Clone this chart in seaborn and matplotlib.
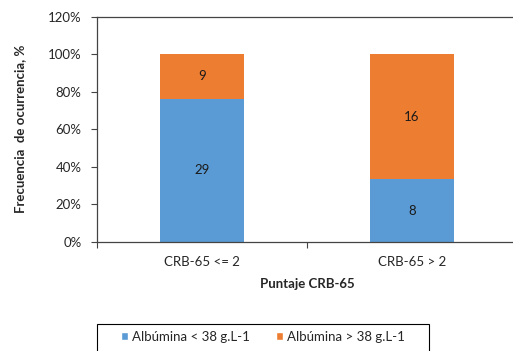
import pandas as pd
import matplotlib.pyplot as plt
import seaborn as sns
from matplotlib.ticker import PercentFormatter
from matplotlib.patches import Patch, Rectangle

categorias = ['CRB-65 <= 2', 'CRB-65 > 2']
alb_bajo = [29, 8]
alb_alto = [9, 16]
series = ['Albúmina < 38 g.L-1', 'Albúmina > 38 g.L-1']
colores = ['#5B9BD5', '#ED7D31']

total = [a + b for a, b in zip(alb_bajo, alb_alto)]
df = pd.DataFrame({
    'categoria': categorias,
    'bajo_pct': [100 * a / t for a, t in zip(alb_bajo, total)],
    'total_pct': [100.0 for _ in total],
})

sns.set_style('white')
plt.rcParams['font.family'] = ['Lato', 'DejaVu Sans']

W, H = 513, 351
fig = plt.figure(figsize=(W / 100, H / 100), dpi=100)
ax = fig.add_axes([97 / W, 1 - 242 / H, 420 / W, (242 - 16.5) / H])

# capa naranja (100%) y luego la azul encima
sns.barplot(data=df, x='categoria', y='total_pct', color=colores[1], width=0.4,
            saturation=1, linewidth=0, ax=ax)
sns.barplot(data=df, x='categoria', y='bajo_pct', color=colores[0], width=0.4,
            saturation=1, linewidth=0, ax=ax)

for i in range(len(categorias)):
    b = df['bajo_pct'][i]
    ax.text(i, b / 2, str(alb_bajo[i]), ha='center', va='center', fontsize=9.5, color='#1a1a1a')
    ax.text(i, (b + 100) / 2, str(alb_alto[i]), ha='center', va='center', fontsize=9.5, color='#1a1a1a')

ax.set_xlim(-0.5, 1.5)
ax.set_ylim(0, 120)
ax.set_yticks(range(0, 121, 20))
ax.yaxis.set_major_formatter(PercentFormatter(decimals=0))
ax.set_xticks([-0.5, 0.5, 1.5], minor=True)
ax.tick_params(axis='x', which='major', length=0, labelsize=9.5, pad=10)
ax.tick_params(axis='x', which='minor', length=4, width=0.8, direction='out', bottom=True, color='#444444')
ax.tick_params(axis='y', length=4, width=0.8, direction='out', left=True, labelsize=9.5,
               pad=7, color='#444444')

for s in ['left', 'bottom', 'top']:
    ax.spines[s].set_visible(True)
    ax.spines[s].set_color('#444444')
    ax.spines[s].set_linewidth(0.9)
ax.spines['right'].set_visible(False)

ax.set_xlabel('Puntaje CRB-65', fontsize=9.5, fontweight='bold', labelpad=7)
ax.set_ylabel('Frecuencia  de ocurrencia, %', fontsize=9.5, fontweight='bold', labelpad=16)

# leyenda sin marco + recuadro dibujado aparte (el de la figura original es más ancho)
handles = [Patch(facecolor=colores[0]), Patch(facecolor=colores[1])]
fig.legend(handles, series, loc='center', bbox_to_anchor=(263 / W, 1 - 337 / H),
           ncol=2, fontsize=9.5, frameon=False, handlelength=0.55,
           handleheight=0.55, handletextpad=0.3, columnspacing=2.0,
           borderpad=0, borderaxespad=0)
fig.add_artist(Rectangle((97 / W, 1 - 353 / H), 332 / W, 29 / H, transform=fig.transFigure,
                         fill=False, edgecolor='black', linewidth=0.8))

fig.savefig('out.png', dpi=100)
